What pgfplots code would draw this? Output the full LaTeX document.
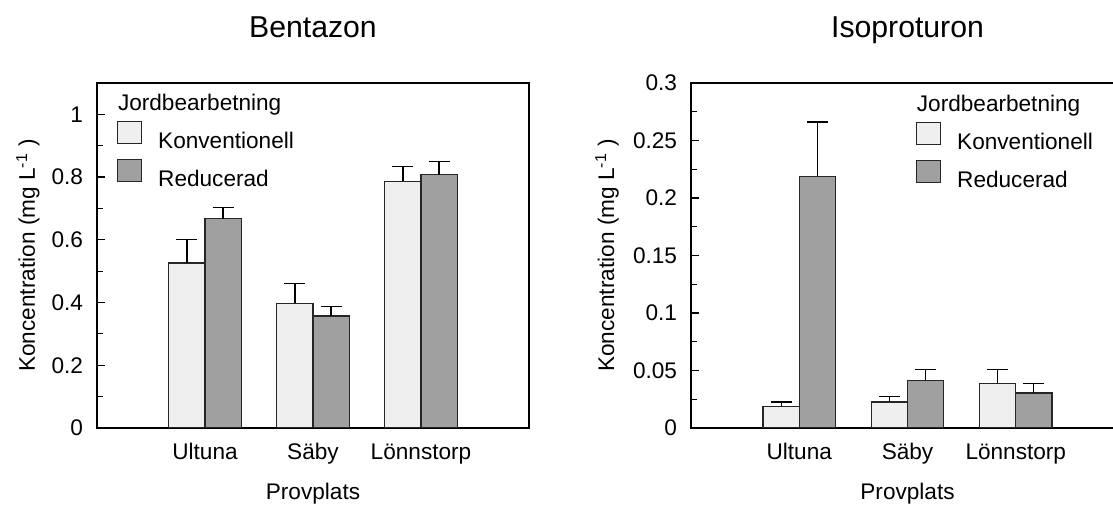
\documentclass[border=0pt]{standalone}
\usepackage{fontspec}
\setmainfont{Liberation Sans}
\usepackage{pgfplots}
\pgfplotsset{compat=1.18}
\definecolor{konvc}{RGB}{239,239,239}
\definecolor{reducc}{RGB}{160,160,160}
\newcommand\lbl{\fontsize{11.3}{13}\selectfont}
\newcommand\ttl{\fontsize{15.1}{18}\selectfont}
\pgfplotsset{
  mybars/.style={
    ybar=0pt, bar width=0.335,
    scale only axis, height=172.5pt,
    xmin=0, xmax=4, ymin=0,
    xtick={1,2,3}, xticklabels={Ultuna,Säby,Lönnstorp},
    xtick style={draw=none},
    tick align=inside, ytick pos=left,
    major tick length=4pt, minor tick length=2.8pt,
    minor y tick num=1,
    axis line style={line width=1.35pt},
    every tick/.style={black, line width=0.6pt},
    scaled y ticks=false,
    /pgf/number format/.cd, fixed, precision=2, assume math mode=true, /pgfplots/.cd,
    tick label style={font=\lbl},
    yticklabel style={inner sep=0pt, xshift=-6.8pt},
    xticklabel style={inner sep=0pt, anchor=base, yshift=-16pt},
    label style={font=\lbl},
    xlabel={Provplats},
    xlabel style={at={([yshift=-36pt]axis description cs:0.5,0)}, anchor=base, inner sep=0pt},
    ylabel={Koncentration (mg L\textsuperscript{-1}\ )},
    title style={font=\ttl, at={([yshift=16.5pt]axis description cs:0.5,1)}, anchor=base, inner sep=0pt},
    legend cell align=left,
    legend style={draw=none, fill=none, inner sep=0pt, outer sep=0pt,
      row sep=3.5pt, column sep=8pt, anchor=north west,
      nodes={inner sep=0pt, text height=9.5pt, text depth=2pt, font=\lbl}},
    legend image code/.code={\draw[#1,/tikz/.cd,yshift=0pt] (0pt,-1.5pt) rectangle (12pt,9.5pt);},
    error bars/y dir=plus, error bars/y explicit,
    error bars/error bar style={line width=0.6pt, black},
    error bars/error mark options={rotate=90, mark size=5.25pt, line width=0.6pt, black},
  },
  konv/.style={draw=black!85, line width=0.6pt, fill=konvc},
  reduc/.style={draw=black!85, line width=0.6pt, fill=reducc},
}
\begin{document}
\begin{tikzpicture}
\begin{axis}[mybars, at={(48.5pt,39pt)}, anchor=south west, width=216pt,
  ymax=1.1, ytick={0,0.2,0.4,0.6,0.8,1},
  title={Bentazon},
  ylabel style={at={([xshift=-31pt]axis description cs:0,0.5)}, anchor=base, inner sep=0pt},
  legend style={at={(axis description cs:0.0463,0.8899)}}]
\addplot[konv] coordinates {(1,0.526) +- (0,0.076) (2,0.397) +- (0,0.064) (3,0.786) +- (0,0.049)};
\addlegendentry{Konventionell}
\addplot[reduc] coordinates {(1,0.667) +- (0,0.036) (2,0.357) +- (0,0.031) (3,0.808) +- (0,0.042)};
\addlegendentry{Reducerad}
\node[anchor=base west, inner sep=0pt, font=\lbl] at (rel axis cs:0.0477,0.9197) {Jordbearbetning};
\end{axis}
\begin{axis}[mybars, at={(345.5pt,39pt)}, anchor=south west, width=216.5pt,
  ymax=0.3, ytick={0,0.05,0.1,0.15,0.2,0.25,0.3},
  title={Isoproturon},
  ylabel style={at={([xshift=-38.5pt]axis description cs:0,0.5)}, anchor=base, inner sep=0pt},
  legend style={at={(axis description cs:0.5196,0.887)}}]
\addplot[konv] coordinates {(1,0.0188) +- (0,0.0038) (2,0.0226) +- (0,0.0049) (3,0.039) +- (0,0.0122)};
\addlegendentry{Konventionell}
\addplot[reduc] coordinates {(1,0.219) +- (0,0.047) (2,0.0414) +- (0,0.0098) (3,0.0304) +- (0,0.0086)};
\addlegendentry{Reducerad}
\node[anchor=base west, inner sep=0pt, font=\lbl] at (rel axis cs:0.5208,0.9188) {Jordbearbetning};
\end{axis}
\pgfresetboundingbox
\useasboundingbox (0,0) rectangle (556.5pt,253pt);
\end{tikzpicture}
\end{document}
